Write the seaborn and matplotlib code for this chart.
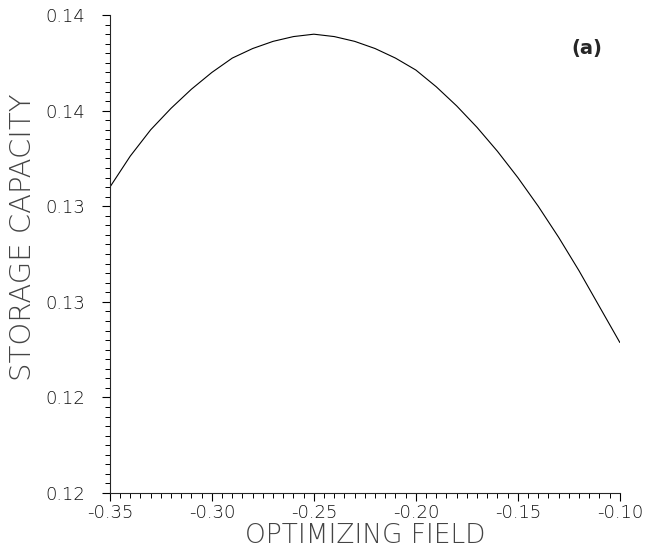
import numpy as np
import pandas as pd
import matplotlib
matplotlib.use('Agg')
import matplotlib.pyplot as plt
import seaborn as sns
from matplotlib.ticker import MultipleLocator, FormatStrFormatter

# values
field = [-0.35, -0.34, -0.33, -0.32, -0.31, -0.30, -0.29, -0.28, -0.27,
         -0.26, -0.25, -0.24, -0.23, -0.22, -0.21, -0.20, -0.19, -0.18,
         -0.17, -0.16, -0.15, -0.14, -0.13, -0.12, -0.11, -0.10]
capacity = [0.1328, 0.1341, 0.1352, 0.1361, 0.1369, 0.1376, 0.1382, 0.1386,
            0.1389, 0.1391, 0.1392, 0.1391, 0.1389, 0.1386, 0.1382, 0.1377,
            0.1370, 0.1362, 0.1353, 0.1343, 0.1332, 0.1320, 0.1307, 0.1293,
            0.1278, 0.1263]

df = pd.DataFrame({'field': field, 'capacity': capacity})

sns.set_style('ticks')
plt.rcParams['font.family'] = ['DejaVu Sans']

fig = plt.figure(figsize=(6.58, 5.5), dpi=100)
ax = fig.add_axes([0.167, 0.1036, 0.775, 0.869])

sns.lineplot(data=df, x='field', y='capacity', color='black', linewidth=0.8, ax=ax)

ax.set_xlim(-0.35, -0.10)
ax.set_ylim(0.120, 0.140)
ax.xaxis.set_major_locator(MultipleLocator(0.05))
ax.xaxis.set_minor_locator(MultipleLocator(0.005))
ax.yaxis.set_major_locator(MultipleLocator(0.004))
ax.yaxis.set_minor_locator(MultipleLocator(0.0004))
ax.xaxis.set_major_formatter(FormatStrFormatter('%.2f'))
ax.yaxis.set_major_formatter(FormatStrFormatter('%.2f'))

ax.tick_params(which='major', direction='out', length=6, width=0.8, labelsize=13,
               colors='black', pad=2)
ax.tick_params(which='minor', direction='out', length=3.5, width=0.7, colors='black')
ax.tick_params(axis='y', which='major', pad=12)
for lab in ax.get_xticklabels() + ax.get_yticklabels():
    lab.set_fontweight('light')
    lab.set_color('#111111')

ax.set_xlabel('OPTIMIZING FIELD', fontsize=19, color='#444444',
              fontweight='light')
ax.set_ylabel('STORAGE CAPACITY', fontsize=21, color='#444444',
              fontweight='light')
ax.yaxis.set_label_coords(-0.143, 0.536)
ax.xaxis.set_label_coords(0.5, -0.062)

ax.text(0.935, 0.93, '(a)', transform=ax.transAxes, fontsize=14,
        fontweight='bold', ha='center', va='center')

sns.despine(ax=ax)
for s in ['left', 'bottom']:
    ax.spines[s].set_linewidth(0.8)

fig.savefig('out.png', dpi=100)
